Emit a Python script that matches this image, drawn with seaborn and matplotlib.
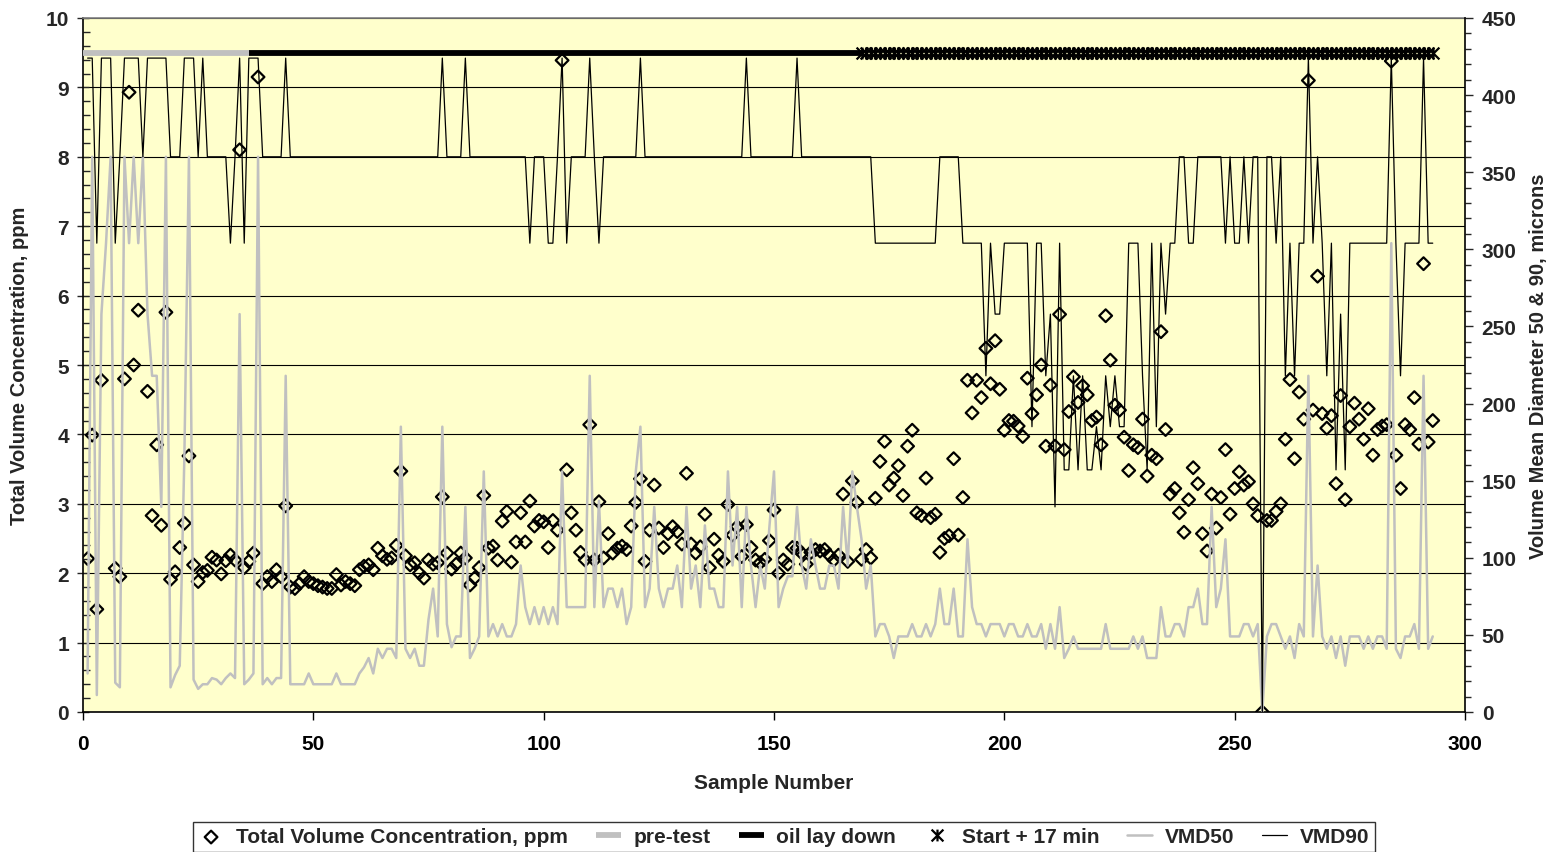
import numpy as np
import pandas as pd
import matplotlib
matplotlib.use("Agg")
import matplotlib.pyplot as plt
from matplotlib.path import Path
from matplotlib.ticker import MultipleLocator
import seaborn as sns

nan = np.nan

# ---------------- data ----------------
sample = np.arange(1, 294)

tvc = [
    2.21, 3.99, 1.48, 4.78, nan, nan, 2.07, 1.95, 4.80, 8.93,
    5.00, 5.79, nan, 4.62, 2.83, 3.85, 2.69, 5.76, 1.91, 2.02,
    2.37, 2.72, 3.69, 2.12, 1.88, 2.01, 2.04, 2.23, 2.19, 1.99,
    2.18, 2.26, 2.19, 8.10, 2.08, 2.17, 2.29, 9.15, 1.85, 1.95,
    1.88, 2.05, 1.95, 2.97, 1.80, 1.78, 1.85, 1.95, 1.88, 1.85,
    1.82, 1.80, 1.78, 1.78, 1.98, 1.83, 1.88, 1.85, 1.82, 2.05,
    2.10, 2.12, 2.05, 2.36, 2.25, 2.20, 2.22, 2.40, 3.47, 2.25,
    2.12, 2.15, 2.00, 1.93, 2.19, 2.13, 2.15, 3.10, 2.29, 2.06,
    2.13, 2.29, 2.22, 1.83, 1.93, 2.08, 3.12, 2.36, 2.39, 2.19,
    2.75, 2.89, 2.16, 2.45, 2.87, 2.45, 3.04, 2.68, 2.76, 2.74,
    2.37, 2.76, 2.62, 9.39, 3.49, 2.87, 2.62, 2.30, 2.19, 4.14,
    2.19, 3.03, 2.22, 2.57, 2.29, 2.36, 2.39, 2.34, 2.68, 3.02,
    3.36, 2.17, 2.62, 3.27, 2.65, 2.37, 2.57, 2.67, 2.60, 2.42,
    3.44, 2.42, 2.29, 2.38, 2.85, 2.08, 2.49, 2.26, 2.17, 2.99,
    2.55, 2.67, 2.24, 2.70, 2.37, 2.19, 2.15, 2.20, 2.47, 2.91,
    2.00, 2.19, 2.13, 2.37, 2.36, 2.29, 2.13, 2.30, 2.34, 2.32,
    2.34, 2.26, 2.19, 2.26, 3.14, 2.17, 3.33, 3.02, 2.20, 2.34,
    2.22, 3.08, 3.61, 3.90, 3.27, 3.37, 3.55, 3.12, 3.83, 4.06,
    2.87, 2.83, 3.37, 2.80, 2.85, 2.30, 2.50, 2.54, 3.65, 2.55,
    3.09, 4.78, 4.31, 4.78, 4.53, 5.24, 4.73, 5.35, 4.65, 4.06,
    4.20, 4.19, 4.12, 3.97, 4.81, 4.30, 4.57, 5.00, 3.83, 4.71,
    3.83, 5.73, 3.78, 4.33, 4.83, 4.46, 4.70, 4.57, 4.20, 4.25,
    3.85, 5.71, 5.07, 4.42, 4.35, 3.96, 3.48, 3.85, 3.81, 4.22,
    3.40, 3.70, 3.65, 5.48, 4.07, 3.14, 3.22, 2.87, 2.59, 3.06,
    3.52, 3.29, 2.57, 2.32, 3.14, 2.65, 3.09, 3.78, 2.85, 3.22,
    3.46, 3.27, 3.32, 3.00, 2.83, 0.00, 2.76, 2.76, 2.89, 3.00,
    3.93, 4.79, 3.65, 4.61, 4.22, 9.10, 4.35, 6.28, 4.30, 4.09,
    4.27, 3.29, 4.56, 3.06, 4.11, 4.45, 4.22, 3.93, 4.37, 3.70,
    4.07, 4.12, 4.14, 9.38, 3.70, 3.22, 4.14, 4.07, 4.53, 3.86,
    6.46, 3.89, 4.20,
]

vmd50 = [
    25, 360, 11, 258, 304, 360, 19, 16, 360, 304,
    360, 304, 360, 258, 218, 218, 133, 360, 16, 24,
    30, 165, 360, 21, 15, 18, 18, 22, 21, 18,
    22, 25, 22, 258, 18, 21, 25, 360, 18, 22,
    18, 22, 22, 218, 18, 18, 18, 18, 25, 18,
    18, 18, 18, 18, 25, 18, 18, 18, 18, 25,
    29, 35, 25, 41, 35, 41, 41, 35, 185, 41,
    35, 41, 30, 30, 60, 80, 49, 185, 57, 42,
    49, 49, 133, 35, 41, 49, 156, 49, 57, 49,
    57, 49, 49, 57, 95, 68, 57, 68, 57, 68,
    57, 68, 57, 156, 68, 68, 68, 68, 68, 218,
    68, 137, 68, 80, 80, 68, 80, 57, 68, 156,
    185, 68, 80, 133, 80, 68, 80, 80, 95, 68,
    133, 80, 95, 68, 121, 80, 80, 68, 68, 156,
    95, 133, 68, 133, 95, 68, 95, 80, 120, 156,
    68, 80, 88, 88, 133, 95, 80, 112, 95, 80,
    80, 95, 95, 80, 133, 95, 156, 133, 112, 80,
    95, 49, 57, 57, 49, 35, 49, 49, 49, 57,
    49, 49, 57, 49, 57, 80, 57, 57, 80, 49,
    49, 112, 68, 57, 57, 49, 57, 57, 57, 49,
    57, 57, 49, 49, 57, 49, 49, 57, 41, 57,
    41, 68, 35, 41, 49, 41, 41, 41, 41, 41,
    41, 57, 41, 41, 41, 41, 41, 49, 41, 49,
    35, 35, 35, 68, 49, 49, 57, 57, 49, 68,
    68, 80, 57, 57, 133, 68, 80, 112, 49, 49,
    49, 57, 57, 49, 57, 0, 49, 57, 57, 49,
    41, 49, 35, 57, 49, 218, 49, 95, 49, 41,
    49, 35, 49, 30, 49, 49, 49, 41, 49, 41,
    49, 49, 41, 304, 41, 35, 49, 49, 57, 41,
    218, 41, 49,
]

vmd90 = [
    424, 424, 304, 424, 424, 424, 304, 360, 424, 424,
    424, 424, 360, 424, 424, 424, 424, 424, 360, 360,
    360, 424, 424, 424, 360, 424, 360, 360, 360, 360,
    360, 304, 360, 424, 304, 424, 424, 424, 360, 360,
    360, 360, 360, 424, 360, 360, 360, 360, 360, 360,
    360, 360, 360, 360, 360, 360, 360, 360, 360, 360,
    360, 360, 360, 360, 360, 360, 360, 360, 360, 360,
    360, 360, 360, 360, 360, 360, 360, 424, 360, 360,
    360, 360, 424, 360, 360, 360, 360, 360, 360, 360,
    360, 360, 360, 360, 360, 360, 304, 360, 360, 360,
    304, 304, 360, 424, 304, 360, 360, 360, 360, 424,
    360, 304, 360, 360, 360, 360, 360, 360, 360, 360,
    424, 360, 360, 360, 360, 360, 360, 360, 360, 360,
    360, 360, 360, 360, 360, 360, 360, 360, 360, 360,
    360, 360, 360, 424, 360, 360, 360, 360, 360, 360,
    360, 360, 360, 360, 424, 360, 360, 360, 360, 360,
    360, 360, 360, 360, 360, 360, 360, 360, 360, 360,
    360, 304, 304, 304, 304, 304, 304, 304, 304, 304,
    304, 304, 304, 304, 304, 360, 360, 360, 360, 360,
    304, 304, 304, 304, 304, 218, 304, 258, 258, 304,
    304, 304, 304, 304, 304, 185, 304, 304, 218, 258,
    133, 304, 157, 157, 218, 157, 218, 157, 157, 185,
    157, 218, 185, 218, 185, 185, 304, 304, 304, 218,
    157, 304, 185, 304, 258, 304, 304, 360, 360, 304,
    304, 360, 360, 360, 360, 360, 360, 304, 360, 304,
    304, 360, 304, 360, 360, 0, 360, 360, 304, 360,
    218, 304, 218, 304, 304, 424, 304, 360, 304, 218,
    304, 157, 258, 157, 304, 304, 304, 304, 304, 304,
    304, 304, 304, 424, 304, 218, 304, 304, 304, 304,
    424, 304, 304,
]

# test phases, drawn as a marker band at a fixed concentration level
phase_level = 9.5
pretest_x = np.arange(0, 37)
oil_x = np.arange(36, 170)
start17_x = np.arange(169, 294)

x_ticks = [0, 50, 100, 150, 200, 250, 300]
left_ticks = list(range(0, 11))
right_ticks = list(range(0, 451, 50))

# ---------------- style ----------------
sns.set_style("ticks")
plt.rcParams["font.family"] = ["Liberation Sans", "DejaVu Sans"]
plt.rcParams["font.weight"] = "bold"
FS = 15
LFS = 14.5

fig = plt.figure(figsize=(15.54, 8.53), dpi=100)
fig.patch.set_facecolor("white")
ax = fig.add_axes([83 / 1554, 1 - 713 / 853, (1465 - 83) / 1554, (713 - 19) / 853])
ax.set_facecolor("#FFFFCC")
ax2 = ax.twinx()

# grid
ax.set_axisbelow(True)
ax.yaxis.grid(True, color="black", linewidth=0.8)
ax.xaxis.grid(False)

# diamonds
sns.scatterplot(x=sample, y=tvc, ax=ax, marker="D", s=42, facecolor="none",
                edgecolor="black", linewidth=1.6, zorder=3,
                label="Total Volume Concentration, ppm")

# phase bands
pre_df = pd.DataFrame({"x": pretest_x, "y": phase_level})
oil_df = pd.DataFrame({"x": oil_x, "y": phase_level})
s17_df = pd.DataFrame({"x": start17_x, "y": phase_level})
sns.lineplot(data=pre_df, x="x", y="y", ax=ax, color="#C0C0C0", linewidth=4.2,
             solid_capstyle="butt", label="pre-test", zorder=4)
sns.lineplot(data=oil_df, x="x", y="y", ax=ax, color="black", linewidth=4.2,
             solid_capstyle="butt", label="oil lay down", zorder=4)
star = Path([(-1, -1), (1, 1), (-1, 1), (1, -1), (0, -1), (0, 1)],
            [Path.MOVETO, Path.LINETO, Path.MOVETO, Path.LINETO, Path.MOVETO, Path.LINETO])
sns.lineplot(data=s17_df, x="x", y="y", ax=ax, color="black", linestyle="",
             marker=star, markersize=8.5, markeredgewidth=1.6,
             markeredgecolor="black", label="Start + 17 min", zorder=4)

# VMD lines on secondary axis
sns.lineplot(x=sample, y=vmd50, ax=ax2, color="#C0C0C0", linewidth=1.8,
             estimator=None, sort=False, label="VMD50")
sns.lineplot(x=sample, y=vmd90, ax=ax2, color="black", linewidth=0.9,
             estimator=None, sort=False, label="VMD90")

for a in (ax, ax2):
    if a.get_legend() is not None:
        a.get_legend().remove()

# axes limits & ticks
ax.set_xlim(0, 300)
ax.set_ylim(0, 10)
ax2.set_ylim(0, 450)
ax.set_xticks(x_ticks)
ax.set_yticks(left_ticks)
ax2.set_yticks(right_ticks)
ax.yaxis.set_minor_locator(MultipleLocator(0.2))
ax2.yaxis.set_minor_locator(MultipleLocator(10))

ax.tick_params(axis="x", direction="out", length=6, width=1, pad=10,
               labelsize=FS, colors="black")
ax.tick_params(axis="y", which="major", direction="inout", length=8, width=1,
               pad=6, labelsize=FS)
ax.tick_params(axis="y", which="minor", direction="in", length=5, width=1)
ax2.tick_params(axis="y", which="major", direction="out", length=6, width=1,
                pad=6, labelsize=FS)
ax2.tick_params(axis="y", which="minor", direction="out", length=4, width=1)
for lab in ax.get_xticklabels() + ax.get_yticklabels() + ax2.get_yticklabels():
    lab.set_fontweight("bold")

for sp in ("left", "bottom"):
    ax.spines[sp].set_color("black")
    ax.spines[sp].set_linewidth(1.2)
ax.spines["top"].set_color("#808080")
ax.spines["top"].set_linewidth(1.2)
ax.spines["right"].set_visible(False)
for sp in ("left", "bottom", "top"):
    ax2.spines[sp].set_visible(False)
ax2.spines["right"].set_color("black")
ax2.spines["right"].set_linewidth(1.2)

ax.set_xlabel("Sample Number", fontsize=FS, fontweight="bold")
ax.set_ylabel("Total Volume Concentration, ppm", fontsize=LFS, fontweight="bold")
ax2.set_ylabel("Volume Mean Diameter 50 & 90, microns", fontsize=LFS,
               fontweight="bold", rotation=90)
ax.xaxis.set_label_coords(0.5, -(774 - 713) / 694)
ax.yaxis.set_label_coords((29 - 83) / 1382, 0.5)
ax2.yaxis.set_label_coords((1529 - 83) / 1382, 0.5)

# legend
h1, l1 = ax.get_legend_handles_labels()
h2, l2 = ax2.get_legend_handles_labels()
leg = fig.legend(h1 + h2, l1 + l2, loc="center",
                 bbox_to_anchor=(784 / 1554, 1 - 838 / 853), ncol=6,
                 frameon=True, fancybox=False, edgecolor="black",
                 prop={"size": 15, "weight": "bold"}, handlelength=1.2,
                 columnspacing=1.35, handletextpad=0.6, borderpad=0.25,
                 borderaxespad=0.0)
leg.get_frame().set_linewidth(1.0)

fig.savefig("out.png", dpi=100, facecolor="white")
